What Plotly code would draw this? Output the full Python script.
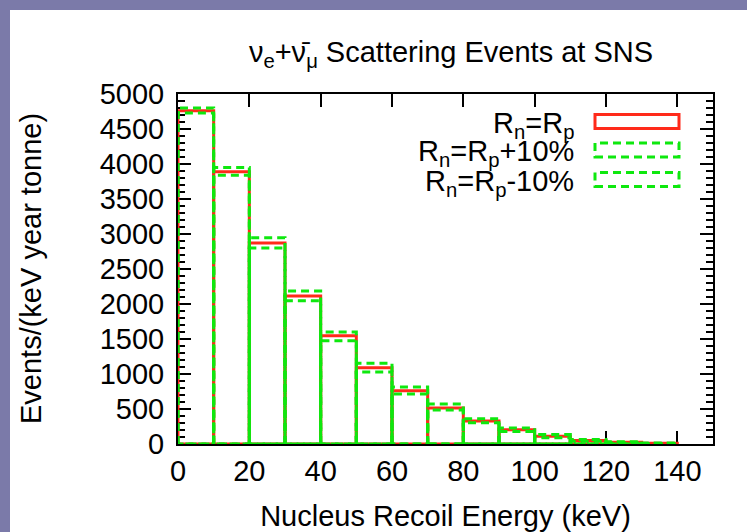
import plotly.graph_objects as go

# ---- data ----
bin_left = [0, 10, 20, 30, 40, 50, 60, 70, 80, 90, 100, 110, 120, 130]
bin_width = 10
rn_eq_rp = [4760, 3890, 2870, 2115, 1545, 1090, 760, 515, 330, 205, 110, 50, 25, 10]
rn_plus10 = [4730, 3840, 2800, 2045, 1475, 1030, 715, 485, 305, 180, 90, 38, 18, 6]
rn_minus10 = [4800, 3950, 2945, 2185, 1600, 1155, 815, 570, 360, 230, 135, 65, 32, 14]
series_names = ["R<sub>n</sub>=R<sub>p</sub>",
                "R<sub>n</sub>=R<sub>p</sub>+10%",
                "R<sub>n</sub>=R<sub>p</sub>-10%"]
x_ticks = [0, 20, 40, 60, 80, 100, 120, 140]
y_ticks = [0, 500, 1000, 1500, 2000, 2500, 3000, 3500, 4000, 4500, 5000]

RED = "#ff2a1a"
GREEN = "#0ee80e"
FONT = "Liberation Sans"
FS = 29


def box_path(lefts, heights, width):
    xs, ys = [], []
    for x0, h in zip(lefts, heights):
        x1 = x0 + width
        xs += [x0, x0, x1, x1, x0, None]
        ys += [0, h, h, 0, 0, None]
    return xs, ys


fig = go.Figure()
styles = [(RED, "solid"), (GREEN, "8px,5px"), (GREEN, "8px,5px")]
for vals, (col, dash) in zip([rn_eq_rp, rn_plus10, rn_minus10], styles):
    xs, ys = box_path(bin_left, vals, bin_width)
    fig.add_trace(go.Scatter(x=xs, y=ys, mode="lines",
                             line=dict(color=col, width=3, dash=dash),
                             showlegend=False, hoverinfo="skip"))

# plot area in pixels: x 178..713, y 94..444 (fig 747x532)
W, H = 747, 532
L, R, T, B = 178, 34, 94, 88
pw, ph = W - L - R, H - T - B


def px2x(px):
    return (px - L) / pw


def py2y(py):
    return (H - B - py) / ph


shapes = []
# purple frame strips (left and top)
shapes.append(dict(type="rect", xref="paper", yref="paper",
                   x0=px2x(0), x1=px2x(10), y0=py2y(H), y1=py2y(0),
                   fillcolor="#7b7aa9", line=dict(width=0), layer="below"))
shapes.append(dict(type="rect", xref="paper", yref="paper",
                   x0=px2x(0), x1=px2x(W), y0=py2y(10), y1=py2y(0),
                   fillcolor="#7b7aa9", line=dict(width=0), layer="below"))

annotations = []
# custom gnuplot-style key
key_rows = [121.5, 150, 179.5]
for name, (col, dash), yc in zip(series_names, styles, key_rows):
    shapes.append(dict(type="rect", xref="paper", yref="paper",
                       x0=px2x(595), x1=px2x(679), y0=py2y(yc + 7), y1=py2y(yc - 7),
                       line=dict(color=col, width=3, dash=dash),
                       fillcolor="rgba(0,0,0,0)"))
    annotations.append(dict(text=name, xref="paper", yref="paper",
                            x=px2x(576), y=py2y(yc + 3), xanchor="right", yanchor="middle",
                            showarrow=False, font=dict(family=FONT, size=FS, color="black")))

# y-axis title
annotations.append(dict(text="Events/(keV year tonne)", xref="paper", yref="paper",
                        x=px2x(31), y=0.5, xanchor="center", yanchor="middle",
                        textangle=-90, showarrow=False,
                        font=dict(family=FONT, size=FS, color="black")))

fig.update_layout(
    width=W, height=H,
    margin=dict(l=L, r=R, t=T, b=B, pad=0, autoexpand=False),
    paper_bgcolor="white", plot_bgcolor="white",
    font=dict(family=FONT, size=FS, color="black"),
    title=dict(text="ν<sub>e</sub>+ν̄<sub>μ</sub> Scattering Events at SNS",
               x=451 / W, xanchor="center", y=1 - 52 / H, yanchor="middle",
               yref="container", font=dict(family=FONT, size=FS, color="black")),
    shapes=shapes, annotations=annotations,
    showlegend=False,
)
fig.update_xaxes(range=[0, 150], tickvals=x_ticks, ticktext=[str(v) for v in x_ticks],
                 automargin=False,
                 ticks="inside", ticklen=13, tickwidth=1.5, tickcolor="black",
                 showline=True, linecolor="black", linewidth=2, mirror="ticks",
                 showgrid=False, zeroline=False, layer="below traces",
                 ticklabelstandoff=0,
                 title=dict(text="Nucleus Recoil Energy (keV)", standoff=34,
                            font=dict(family=FONT, size=FS, color="black")))
fig.update_yaxes(range=[0, 5000], tickvals=y_ticks, ticktext=[str(v) for v in y_ticks],
                 automargin=False,
                 ticks="inside", ticklen=13, tickwidth=1.5, tickcolor="black",
                 minor=dict(dtick=100, ticks="inside", ticklen=7, tickwidth=1.5,
                            tickcolor="black", showgrid=False),
                 showline=True, linecolor="black", linewidth=2, mirror="ticks",
                 showgrid=False, zeroline=False, layer="below traces",
                 ticklabelstandoff=6)

fig.write_html("out.html")
